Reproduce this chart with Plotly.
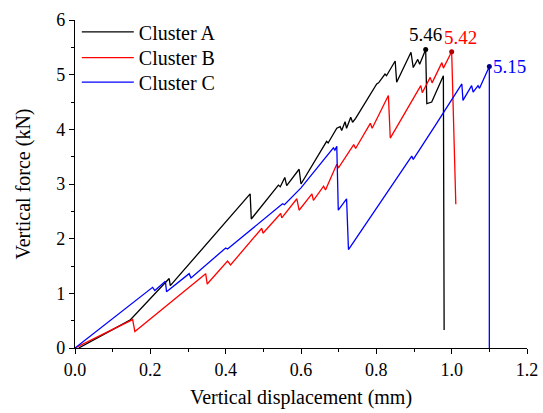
import plotly.graph_objects as go

# Cluster A (black)
a_x = [0.01, 0.146, 0.250, 0.253, 0.465, 0.468, 0.540, 0.545, 0.557, 0.562, 0.595, 0.600,
       0.668, 0.672, 0.695, 0.704, 0.708, 0.717, 0.721, 0.732, 0.737, 0.745, 0.801, 0.806,
       0.823, 0.827, 0.850, 0.854, 0.892, 0.898, 0.910, 0.915, 0.931, 0.934, 0.947, 0.978, 0.980]
a_y = [0.0, 0.51, 1.27, 1.14, 2.82, 2.36, 2.98, 2.95, 3.12, 2.97, 3.27, 3.00,
       3.78, 3.75, 4.02, 4.05, 3.98, 4.14, 4.02, 4.22, 4.13, 4.20, 4.83, 4.85,
       5.01, 4.98, 5.25, 4.86, 5.41, 5.13, 5.28, 5.19, 5.46, 4.47, 4.50, 4.98, 0.33]

# Cluster B (red)
b_x = [0.0, 0.153, 0.159, 0.347, 0.351, 0.405, 0.413, 0.496, 0.499, 0.546, 0.549, 0.589,
       0.595, 0.629, 0.633, 0.660, 0.665, 0.695, 0.700, 0.740, 0.745, 0.784, 0.789, 0.832,
       0.837, 0.918, 0.922, 0.943, 0.948, 0.974, 0.978, 1.000, 1.011]
b_y = [0.0, 0.52, 0.30, 1.36, 1.17, 1.59, 1.52, 2.19, 2.10, 2.46, 2.38, 2.73,
       2.52, 2.82, 2.70, 2.96, 2.89, 3.36, 3.30, 3.72, 3.65, 4.11, 4.02, 4.62,
       3.84, 4.80, 4.67, 4.95, 4.85, 5.22, 5.12, 5.42, 2.63]

# Cluster C (blue)
c_x = [0.0, 0.206, 0.212, 0.240, 0.243, 0.303, 0.308, 0.400, 0.405, 0.551, 0.556, 0.600,
       0.686, 0.690, 0.695, 0.699, 0.721, 0.726, 0.894, 0.898, 0.960, 1.027, 1.030, 1.053,
       1.057, 1.070, 1.074, 1.100, 1.100]
c_y = [0.0, 1.11, 1.05, 1.22, 1.03, 1.36, 1.28, 1.83, 1.81, 2.64, 2.62, 2.93,
       3.66, 3.62, 3.69, 2.52, 2.73, 1.80, 3.51, 3.45, 4.11, 4.83, 4.53, 4.80,
       4.68, 4.80, 4.75, 5.15, 0.0]

names = ["Cluster A", "Cluster B", "Cluster C"]
colors = ["#000000", "#FF0000", "#0000FF"]
dot_colors = ["#000000", "#B00000", "#00008B"]
peak_x = [0.931, 1.000, 1.100]
peak_y = [5.46, 5.42, 5.15]
peak_labels = ["5.46", "5.42", "5.15"]

x_ticks = [0.0, 0.2, 0.4, 0.6, 0.8, 1.0, 1.2]
x_tick_text = ["0.0", "0.2", "0.4", "0.6", "0.8", "1.0", "1.2"]
y_ticks = [0, 1, 2, 3, 4, 5, 6]

FONT = "Liberation Serif, Times New Roman, serif"

fig = go.Figure()
legend_ids = ["legend", "legend2", "legend3"]
for xs, ys, nm, col, lg in zip([a_x, b_x, c_x], [a_y, b_y, c_y], names, colors, legend_ids):
    fig.add_trace(go.Scatter(x=xs, y=ys, mode="lines", name=nm, legend=lg,
                             line=dict(color=col, width=1.3), cliponaxis=False))

for px, py, dc in zip(peak_x, peak_y, dot_colors):
    fig.add_trace(go.Scatter(x=[px], y=[py], mode="markers", showlegend=False,
                             marker=dict(color=dc, size=5), cliponaxis=False))

# annotations
fig.add_annotation(x=peak_x[0], y=peak_y[0], text=peak_labels[0], showarrow=False,
                   xanchor="center", yanchor="bottom", yshift=3,
                   font=dict(family=FONT, size=19, color=colors[0]))
fig.add_annotation(x=peak_x[1], y=peak_y[1], text=peak_labels[1], showarrow=False,
                   xanchor="center", yanchor="bottom", yshift=2, xshift=9,
                   font=dict(family=FONT, size=19, color=colors[1]))
fig.add_annotation(x=peak_x[2], y=peak_y[2], text=peak_labels[2], showarrow=False,
                   xanchor="left", yanchor="middle", xshift=2,
                   font=dict(family=FONT, size=19, color=colors[2]))

axis_common = dict(showgrid=False, zeroline=False, showline=True, linecolor="#000000",
                   linewidth=1.3, ticks="outside", ticklen=5, tickwidth=1.2,
                   tickcolor="#000000", mirror=False, automargin=False,
                   tickfont=dict(family=FONT, size=18, color="#000000"))

fig.update_xaxes(range=[0, 1.2], tickvals=x_ticks, ticktext=x_tick_text,
                 title=dict(text="Vertical displacement (mm)",
                            font=dict(family=FONT, size=20, color="#000000"), standoff=11),
                 minor=dict(ticks="outside", ticklen=3, dtick=0.1, tickcolor="#000000", tickwidth=1),
                 **axis_common)
fig.update_yaxes(range=[0, 6], tickvals=y_ticks,
                 title=dict(text="Vertical force (kN)",
                            font=dict(family=FONT, size=20, color="#000000"), standoff=20),
                 minor=dict(ticks="outside", ticklen=3, dtick=0.5, tickcolor="#000000", tickwidth=1),
                 **axis_common)

legend_common = dict(x=0.004, xanchor="left", yanchor="top", bgcolor="rgba(0,0,0,0)",
                     font=dict(family=FONT, size=20), itemwidth=52)

fig.update_layout(
    width=543, height=413,
    margin=dict(l=75, r=16, t=15, b=65),
    paper_bgcolor="white", plot_bgcolor="white",
    font=dict(family=FONT, color="#000000"),
    legend=dict(y=1.023, **legend_common),
    legend2=dict(y=0.945, **legend_common),
    legend3=dict(y=0.870, **legend_common),
    showlegend=True,
)

fig.write_html("out.html")
